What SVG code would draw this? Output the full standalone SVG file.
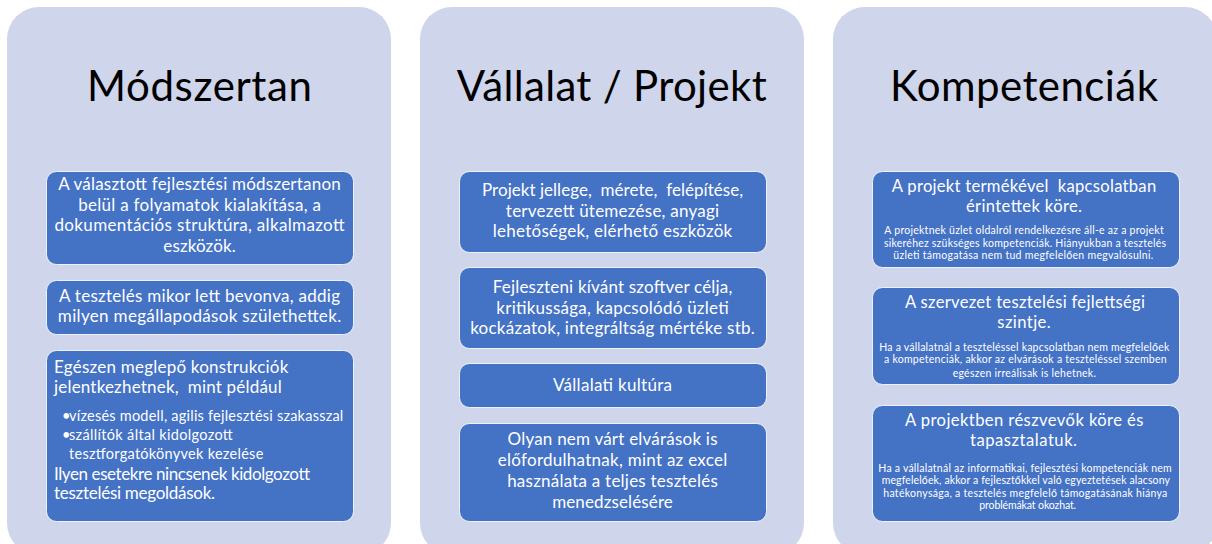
<svg xmlns="http://www.w3.org/2000/svg" width="1212" height="544" viewBox="0 0 1212 544">
  <style>
    .panel { fill: #CFD5EA; }
    .box { fill: #4472C4; stroke: #FFFFFF; stroke-width: 1; stroke-opacity: 0.85; }
    text { font-family: Lato, "Open Sans", "Liberation Sans", sans-serif; }
    .title { font-size: 42px; fill: #000000; text-anchor: middle; }
    .t { font-size: 17px; fill: #FFFFFF; text-anchor: middle; }
    .tl { font-size: 17px; fill: #FFFFFF; text-anchor: start; }
    .bl { font-size: 14.5px; }
    .h { font-size: 16.6px; fill: #FFFFFF; text-anchor: middle; }
    .s { font-size: 10.5px; }
  </style>

  <rect width="1212" height="544" fill="#FFFFFF"/>

  <!-- Column 1: methodology -->
  <g id="panel-modszertan">
    <rect class="panel" x="7" y="7" width="384" height="548" rx="32"/>
    <text class="title" x="199.5" y="101" textLength="225">Módszertan</text>
  </g>
  <g id="box-modszertan-1">
    <rect class="box" x="46.5" y="171.5" width="307" height="93" rx="10"/>
    <text class="t"><tspan x="199.5" y="190" textLength="282.7">A választott fejlesztési módszertanon</tspan
      ><tspan x="199.5" y="210.5" textLength="242.7">belül a folyamatok kialakítása, a</tspan
      ><tspan x="199.5" y="231" textLength="290">dokumentációs struktúra, alkalmazott</tspan
      ><tspan x="199.5" y="251.5" textLength="72.3">eszközök.</tspan></text>
  </g>
  <g id="box-modszertan-2">
    <rect class="box" x="46.5" y="280.5" width="307" height="54" rx="10"/>
    <text class="t"><tspan x="199.5" y="302" textLength="281">A tesztelés mikor lett bevonva, addig</tspan
      ><tspan x="199.5" y="322" textLength="283.3">milyen megállapodások születhettek.</tspan></text>
  </g>
  <g id="box-modszertan-3">
    <rect class="box" x="46.5" y="350.5" width="307" height="171" rx="10"/>
    <text class="tl"><tspan x="54" y="372.5" textLength="234.3">Egészen meglepő konstrukciók</tspan
      ><tspan x="54" y="393" textLength="227.7">jelentkezhetnek,&#160; mint például</tspan
      ><tspan class="bl" x="62" y="420.8">•</tspan
      ><tspan class="bl" x="69" y="420.8" textLength="274.3">vízesés modell, agilis fejlesztési szakasszal</tspan
      ><tspan class="bl" x="62" y="440">•</tspan
      ><tspan class="bl" x="69" y="440" textLength="163.7">szállítók által kidolgozott</tspan
      ><tspan class="bl" x="69" y="459" textLength="194.3">tesztforgatókönyvek kezelése</tspan
      ><tspan x="54" y="480" textLength="256">Ilyen esetekre nincsenek kidolgozott</tspan
      ><tspan x="54" y="499" textLength="161">tesztelési megoldások.</tspan></text>
  </g>

  <!-- Column 2: company / project -->
  <g id="panel-vallalat-projekt">
    <rect class="panel" x="420" y="7" width="384" height="548" rx="32"/>
    <text class="title" x="611.7" y="101" textLength="310">Vállalat / Projekt</text>
  </g>
  <g id="box-projekt-1">
    <rect class="box" x="459.5" y="171.5" width="307" height="81" rx="10"/>
    <text class="t"><tspan x="612.5" y="196" textLength="261">Projekt jellege,&#160; mérete,&#160; felépítése,</tspan
      ><tspan x="612.5" y="217" textLength="213.3">tervezett ütemezése, anyagi</tspan
      ><tspan x="612.5" y="237.2" textLength="239.4">lehetőségek, elérhető eszközök</tspan></text>
  </g>
  <g id="box-projekt-2">
    <rect class="box" x="459.5" y="267.5" width="307" height="81" rx="10"/>
    <text class="t"><tspan x="612.5" y="292.7" textLength="239.6">Fejleszteni kívánt szoftver célja,</tspan
      ><tspan x="612.5" y="313.5" textLength="232.3">kritikussága, kapcsolódó üzleti</tspan
      ><tspan x="612.5" y="334" textLength="284.7">kockázatok, integráltság mértéke stb.</tspan></text>
  </g>
  <g id="box-projekt-3">
    <rect class="box" x="459.5" y="363.5" width="307" height="44" rx="10"/>
    <text class="t" x="612.5" y="391.3" textLength="119">Vállalati kultúra</text>
  </g>
  <g id="box-projekt-4">
    <rect class="box" x="459.5" y="423.5" width="307" height="98" rx="10"/>
    <text class="t"><tspan x="612.5" y="445" textLength="210">Olyan nem várt elvárások is</tspan
      ><tspan x="612.5" y="466" textLength="229.3">előfordulhatnak, mint az excel</tspan
      ><tspan x="612.5" y="486.8" textLength="210.7">használata a teljes tesztelés</tspan
      ><tspan x="612.5" y="507.6" textLength="120.7">menedzselésére</tspan></text>
  </g>

  <!-- Column 3: competences -->
  <g id="panel-kompetenciak">
    <rect class="panel" x="833" y="7" width="384" height="548" rx="32"/>
    <text class="title" x="1024" y="101" textLength="268">Kompetenciák</text>
  </g>
  <g id="box-kompetencia-1">
    <rect class="box" x="872.5" y="171.5" width="307" height="96" rx="10"/>
    <text class="h"><tspan x="1024" y="191.8" textLength="264.3">A projekt termékével&#160; kapcsolatban</tspan
      ><tspan x="1024" y="211.8" textLength="116">érintettek köre.</tspan
      ><tspan class="s" x="1024" y="234" textLength="279.3">A projektnek üzlet oldalról rendelkezésre áll-e az a projekt</tspan
      ><tspan class="s" x="1025" y="246.5" textLength="282">sikeréhez szükséges kompetenciák. Hiányukban a tesztelés</tspan
      ><tspan class="s" x="1023.3" y="259" textLength="260">üzleti támogatása nem tud megfelelően megvalósulni.</tspan></text>
  </g>
  <g id="box-kompetencia-2">
    <rect class="box" x="872.5" y="287.5" width="307" height="97" rx="10"/>
    <text class="h"><tspan x="1025" y="307.5" textLength="240">A szervezet tesztelési fejlettségi</tspan
      ><tspan x="1024" y="327.5" textLength="53.3">szintje.</tspan
      ><tspan class="s" x="1024.3" y="350.7" textLength="290">Ha a vállalatnál a teszteléssel kapcsolatban nem megfelelőek</tspan
      ><tspan class="s" x="1025.3" y="363.3" textLength="282.7">a kompetenciák, akkor az elvárások a teszteléssel szemben</tspan
      ><tspan class="s" x="1024.3" y="376.7" textLength="143.3">egészen irreálisak is lehetnek.</tspan></text>
  </g>
  <g id="box-kompetencia-3">
    <rect class="box" x="872.5" y="405.5" width="307" height="116" rx="10"/>
    <text class="h"><tspan x="1024.2" y="426.2" textLength="238.3">A projektben részvevők köre és</tspan
      ><tspan x="1023.5" y="446.2" textLength="107">tapasztalatuk.</tspan
      ><tspan class="s" x="1025" y="471.7" textLength="293.4">Ha a vállalatnál az informatikai, fejlesztési kompetenciák nem</tspan
      ><tspan class="s" x="1025.8" y="484.3" textLength="288.3">megfelelőek, akkor a fejlesztőkkel való egyeztetések alacsony</tspan
      ><tspan class="s" x="1025.3" y="496.7" textLength="284">hatékonysága, a tesztelés megfelelő támogatásának hiánya</tspan
      ><tspan class="s" x="1027.7" y="509.3" textLength="96.7">problémákat okozhat.</tspan></text>
  </g>
</svg>
